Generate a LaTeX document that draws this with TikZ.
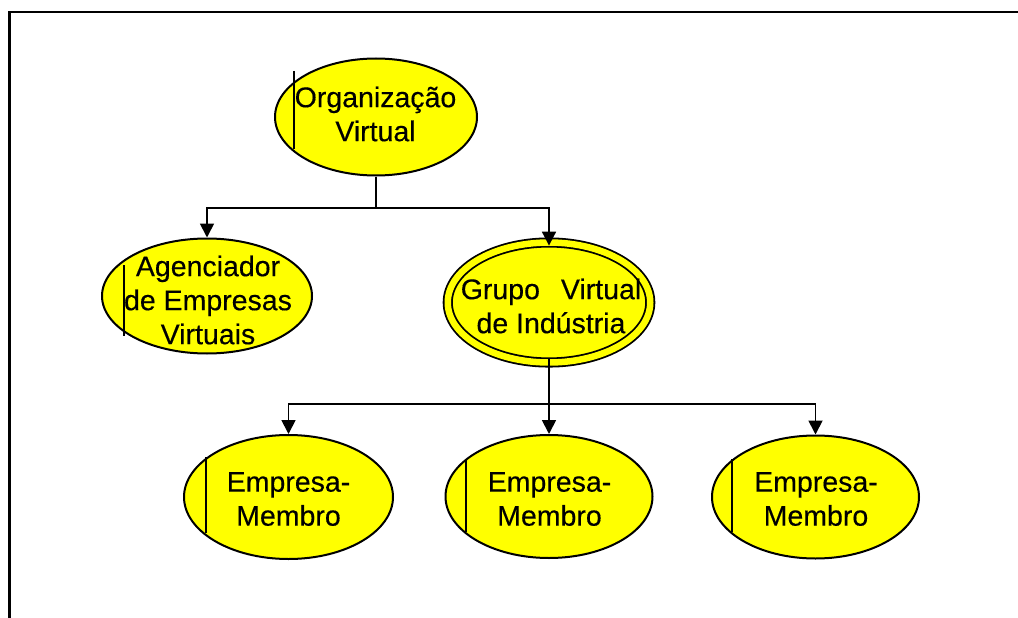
\documentclass[tikz,border=0pt]{standalone}
\usepackage{fontspec}
\setmainfont{Liberation Sans}[FakeBold=0.3]
\usetikzlibrary{arrows.meta,shapes.geometric}

\definecolor{nodefill}{HTML}{FFFF00}

\tikzset{
  oval/.style={ellipse, draw=black, line width=2pt, fill=nodefill, inner sep=0pt},
  doubleoval/.style={oval, double=nodefill, double distance=6.5pt, line width=1.8pt},
  txt/.style={align=center, inner sep=0pt, font=\fontsize{28.5pt}{34pt}\selectfont},
  link/.style={line width=1.8pt},
  arr/.style={link, -{Triangle[width=14pt,length=14pt]}},
  bar/.style={line width=1.8pt},
  frame/.style={line width=2.2pt}
}

\begin{document}
\begin{tikzpicture}[x=1pt,y=-1pt]
  \useasboundingbox (0,0) rectangle (1018,618);

  % frame lines (top and left)
  \coordinate (fl) at (9.5,618);
  \coordinate (fc) at (9.5,12.3);
  \coordinate (fr) at (1018,12.3);
  \draw[frame] (fl) -- (fc) -- (fr);

  % ellipses
  \node[oval, minimum width=202pt, minimum height=117pt] (org) at (376,117) {};
  \node[oval, minimum width=210pt, minimum height=115pt] (agc) at (207,296) {};
  \node[doubleoval, minimum width=202.5pt, minimum height=120pt] (grp) at (549,302.5) {};
  \node[oval, minimum width=209pt, minimum height=124pt] (em1) at (288.5,497) {};
  \node[oval, minimum width=207pt, minimum height=123pt] (em2) at (549,496.5) {};
  \node[oval, minimum width=207pt, minimum height=123pt] (em3) at (815.5,497) {};

  % left text-frame bars inside the ellipses
  \draw[bar] (294,71) -- (294,149);
  \draw[bar] (124,265) -- (124,336);
  \draw[bar] (206,457) -- (206,533);
  \draw[bar] (466,459) -- (466,532);
  \draw[bar] (732,459) -- (732,532);

  % texts
  \node[txt] (orgt) at (375.5,114) {Organização\\Virtual};
  \node[txt] (agct) at (208,300) {Agenciador\\de Empresas\\Virtuais};
  \node[txt] (grpt) at (551,306) {Grupo\hspace{21pt}Virtual\\de Indústria};
  \node[txt] (em1t) at (288.5,499) {Empresa-\\Membro};
  \node[txt] (em2t) at (549.5,499) {Empresa-\\Membro};
  \node[txt] (em3t) at (816,499) {Empresa-\\Membro};

  % connectors
  \coordinate (j1) at (org.south |- 0,208);
  \draw[link] (org.south) -- (j1);
  \draw[arr] (j1) -| (agc.north);
  \draw[arr] (j1) -| ([yshift=-4pt]grp.north);

  \coordinate (j2) at (grp.south |- 0,404);
  \draw[link] ([yshift=4pt]grp.south) -- (j2);
  \draw[arr] (j2) -| (em1.north);
  \draw[arr] (j2) -- (em2.north);
  \draw[arr] (j2) -| (em3.north);
\end{tikzpicture}
\end{document}
